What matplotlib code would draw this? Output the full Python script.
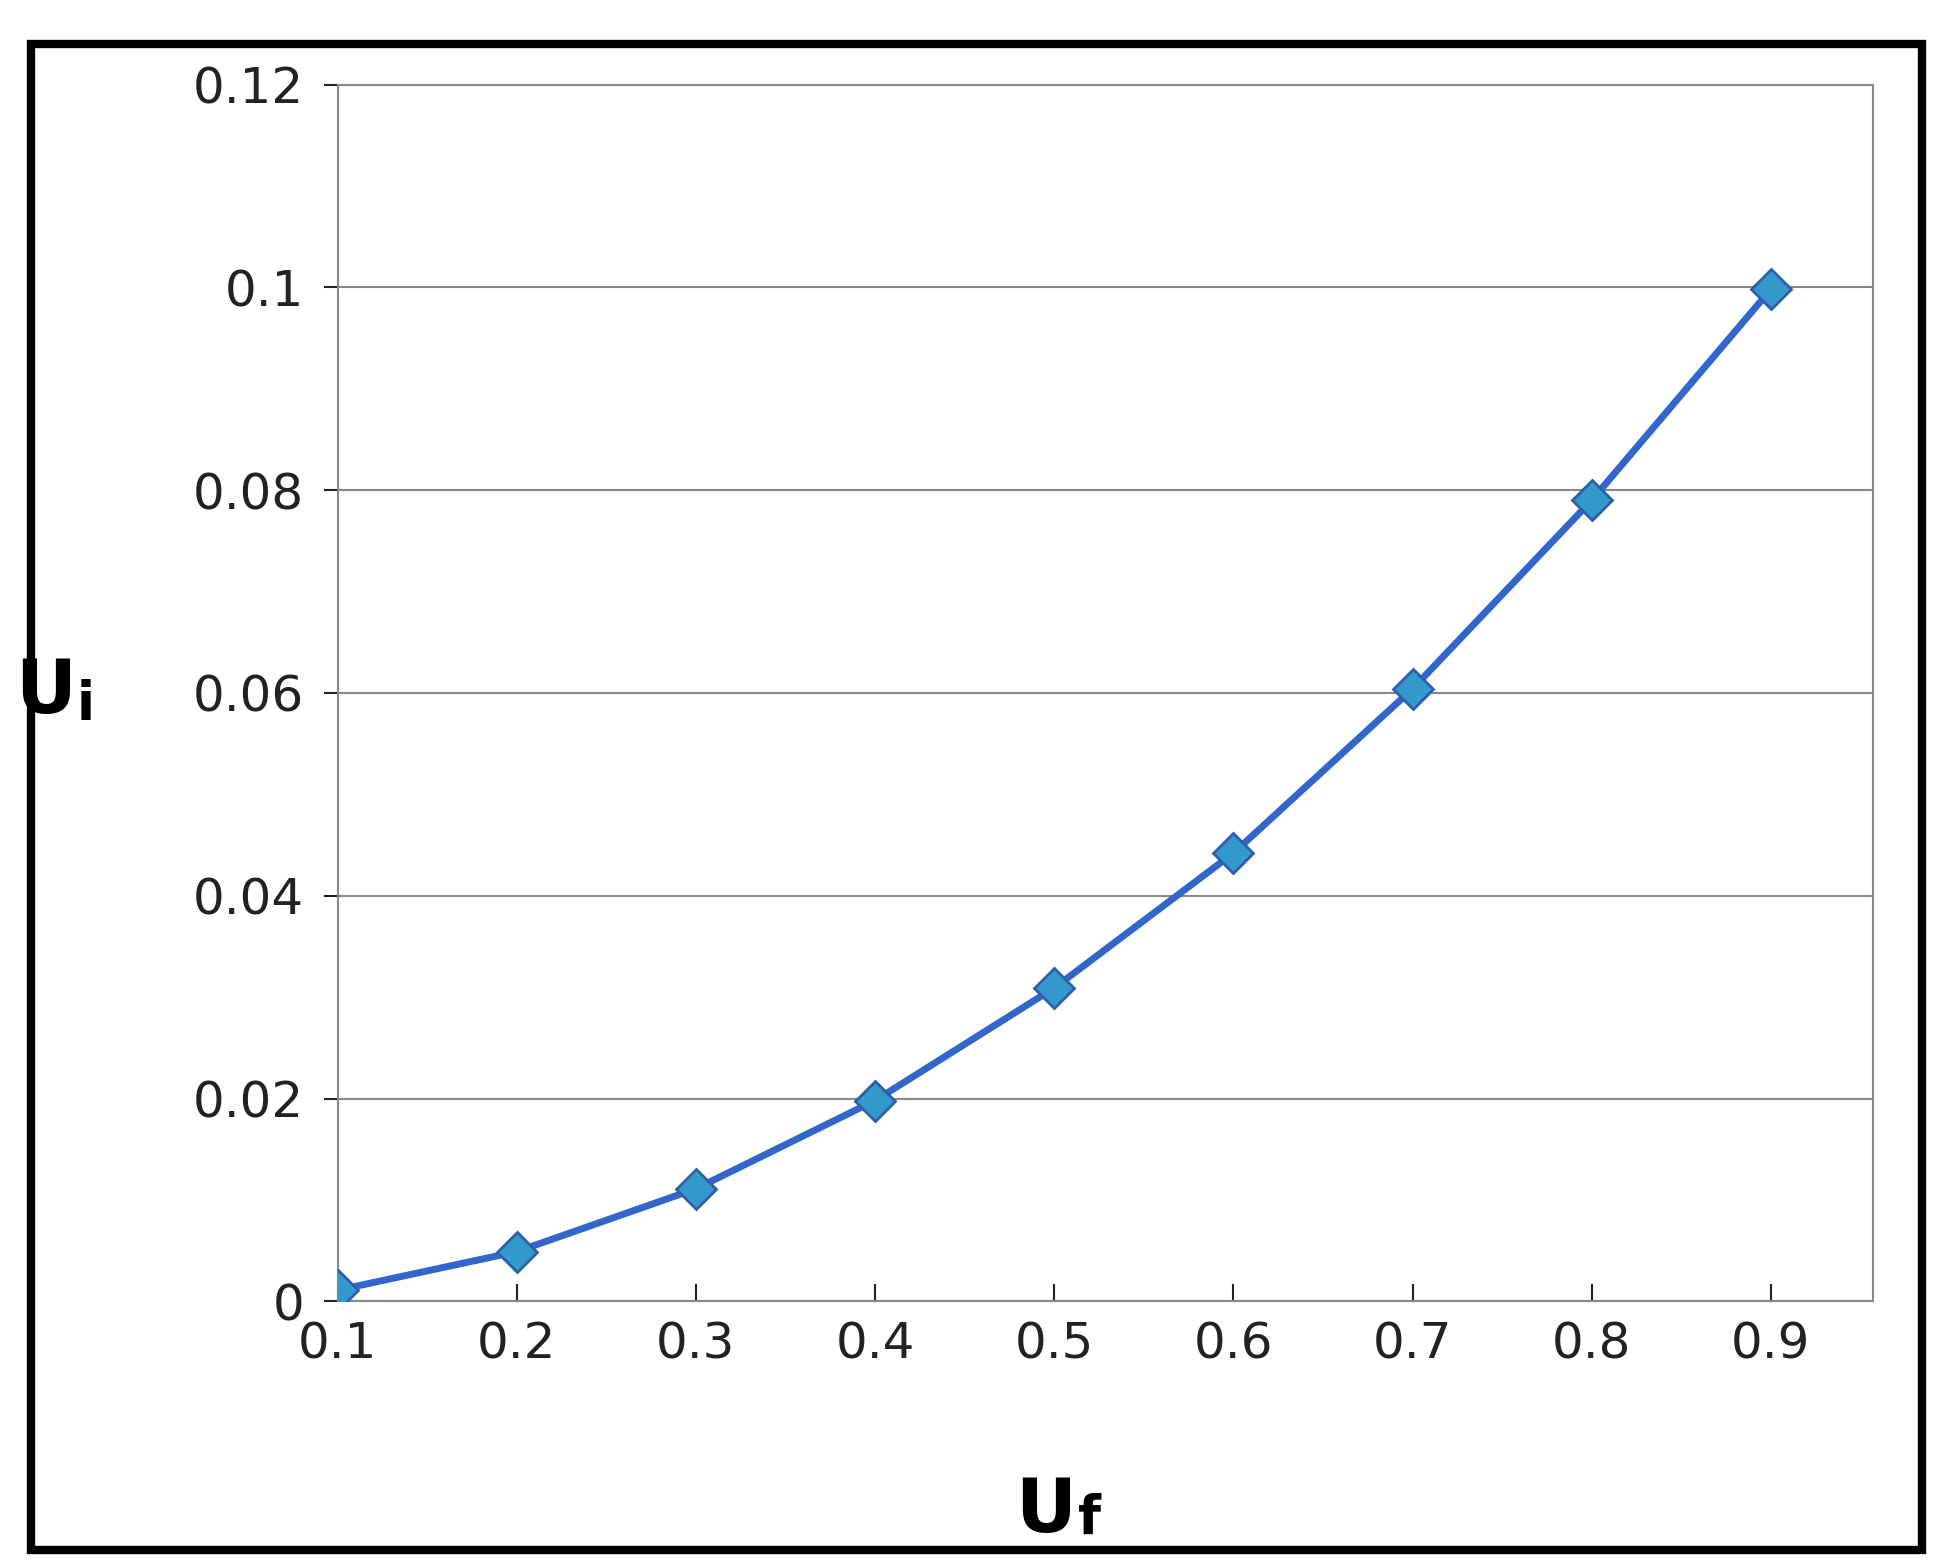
import matplotlib
matplotlib.use("Agg")
import matplotlib.pyplot as plt
from matplotlib.patches import Rectangle

uf = [0.1, 0.2, 0.3, 0.4, 0.5, 0.6, 0.7, 0.8, 0.9]
ui = [0.0011, 0.0049, 0.0111, 0.0198, 0.0309, 0.0442, 0.0604, 0.0790, 0.0998]
yticks = [0, 0.02, 0.04, 0.06, 0.08, 0.1, 0.12]
ylabels = ["0", "0.02", "0.04", "0.06", "0.08", "0.1", "0.12"]

plt.rcParams['mathtext.fontset'] = 'dejavusans'
fig = plt.figure(figsize=(19.51, 15.66), dpi=100)
fig.patches.append(Rectangle((0.016, 0.01), 0.969, 0.962, transform=fig.transFigure,
                             fill=False, lw=6, ec='black'))
ax = fig.add_axes([0.173, 0.169, 0.787, 0.777])
ax.plot(uf, ui, color='#3366CC', lw=5, marker='D', ms=20,
        mfc='#3399CC', mec='#2E5EAA', mew=2, zorder=3)
ax.set_xlim(0.1, 0.957)
ax.set_ylim(0, 0.12)
ax.set_xticks(uf)
ax.set_xticklabels([str(v) for v in uf])
ax.set_yticks(yticks)
ax.set_yticklabels(ylabels)
ax.grid(axis='y', color='#888888', lw=1.5)
for s in ['top', 'right', 'left', 'bottom']:
    ax.spines[s].set_color('#888888')
    ax.spines[s].set_linewidth(1.5)
ax.tick_params(labelsize=36, colors='#222222', length=10, width=1.5, pad=14)
ax.tick_params(axis='x', direction='in', length=12)
ax.text(-0.21, 0.5, r'$\mathbf{U}$', transform=ax.transAxes, fontsize=54,
        ha='left', va='center')
ax.text(-0.17, 0.49, r'$\mathbf{i}$', transform=ax.transAxes, fontsize=38,
        ha='left', va='center')
fig.text(0.52, 0.035, r'$\mathbf{U}$', fontsize=54, ha='left', va='center')
fig.text(0.552, 0.03, r'$\mathbf{f}$', fontsize=38, ha='left', va='center')
fig.savefig("out.png", dpi=100)
